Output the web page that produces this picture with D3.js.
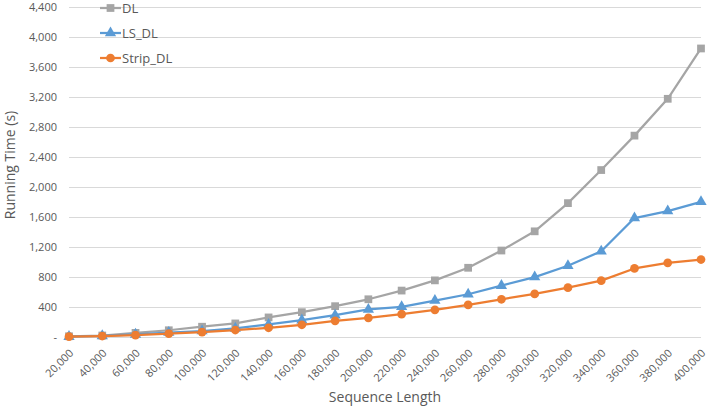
<!DOCTYPE html>
<html><head><meta charset="utf-8">
<script src="https://cdn.jsdelivr.net/npm/d3@7"></script>
<style>body{margin:0;background:#fff}svg{display:block}text{font-family:"Open Sans",sans-serif}</style>
</head><body><div id="chart"></div>
<script>
const categories = [20000,40000,60000,80000,100000,120000,140000,160000,180000,200000,220000,240000,260000,280000,300000,320000,340000,360000,380000,400000];
const DL = [10,20,55,90,137,181,261,331,411,503,619,755,923,1153,1409,1785,2226,2685,3176,3847];
const LS_DL = [5,15,35,60,80,115,168,225,291,367,402,486,570,685,799,950,1143,1586,1679,1802];
const Strip_DL = [5,13,26,44,66,93,123,163,216,256,305,362,428,503,574,658,751,914,989,1033];
const yTicks = [0,400,800,1200,1600,2000,2400,2800,3200,3600,4000,4400];
const seriesNames = ["DL","LS_DL","Strip_DL"];

const W=707,H=410;
const svg=d3.select("#chart").append("svg").attr("width",W).attr("height",H);
const x=d3.scalePoint().domain(categories).range([69,701]);
const y=d3.scaleLinear().domain([0,4400]).range([337,7]);
const fmt=d3.format(",");

// gridlines
svg.append("g").selectAll("line").data(yTicks).join("line")
  .attr("x1",69).attr("x2",701).attr("y1",d=>y(d)).attr("y2",d=>y(d))
  .attr("stroke","#d9d9d9").attr("stroke-width",1).attr("shape-rendering","crispEdges");

// y axis labels
const yAxis=d3.axisLeft(y).tickValues(yTicks).tickSize(0).tickPadding(0)
  .tickFormat(d=>d===0?"-":fmt(d));
const yg=svg.append("g").attr("transform","translate(57,0)").call(yAxis);
yg.select(".domain").remove();
yg.selectAll("text").attr("fill","#595959").style("font-size","11px").style("font-family","Open Sans");

// x axis labels
const xAxis=d3.axisBottom(x).tickSize(0).tickFormat(d=>fmt(d));
const xg=svg.append("g").attr("transform","translate(0,337)").call(xAxis);
xg.select(".domain").remove();
xg.selectAll("text").attr("fill","#595959").style("font-size","11px").style("font-family","Open Sans")
  .attr("text-anchor","end").attr("dy","0.35em").attr("y",0)
  .attr("transform","translate(2,14) rotate(-45)");

// axis titles
svg.append("text").attr("x",385).attr("y",402).attr("text-anchor","middle")
  .attr("fill","#595959").style("font-size","14px").text("Sequence Length");
svg.append("text").attr("transform","translate(15,165) rotate(-90)").attr("text-anchor","middle")
  .attr("fill","#595959").style("font-size","14px").text("Running Time (s)");

const colors={DL:"#a5a5a5",LS_DL:"#5b9bd5",Strip_DL:"#ed7d31"};
const data={DL,LS_DL,Strip_DL};
const symbols={DL:d3.symbolSquare,LS_DL:d3.symbolTriangle,Strip_DL:d3.symbolCircle};
const sizes={DL:60,LS_DL:55,Strip_DL:60};
const line=d3.line().x((d,i)=>x(categories[i])).y(d=>y(d));

seriesNames.forEach(name=>{
  const g=svg.append("g");
  g.append("path").datum(data[name]).attr("d",line).attr("fill","none")
    .attr("stroke",colors[name]).attr("stroke-width",2.25).attr("stroke-linejoin","round");
  g.selectAll("path.m").data(data[name]).join("path").attr("class","m")
    .attr("transform",(d,i)=>`translate(${x(categories[i])},${y(d)})`)
    .attr("d",d3.symbol().type(symbols[name]).size(sizes[name]))
    .attr("fill",colors[name]);
});

// legend
const legY=[8,33,58];
seriesNames.forEach((name,i)=>{
  const g=svg.append("g").attr("transform",`translate(100,${legY[i]})`);
  g.append("line").attr("x1",0).attr("x2",21).attr("stroke",colors[name]).attr("stroke-width",2.25);
  g.append("path").attr("transform","translate(10.5,0)").attr("d",d3.symbol().type(symbols[name]).size(sizes[name])).attr("fill",colors[name]);
  g.append("text").attr("x",22).attr("dy","0.35em").attr("fill","#595959").style("font-size","13px").text(name);
});
</script></body></html>
